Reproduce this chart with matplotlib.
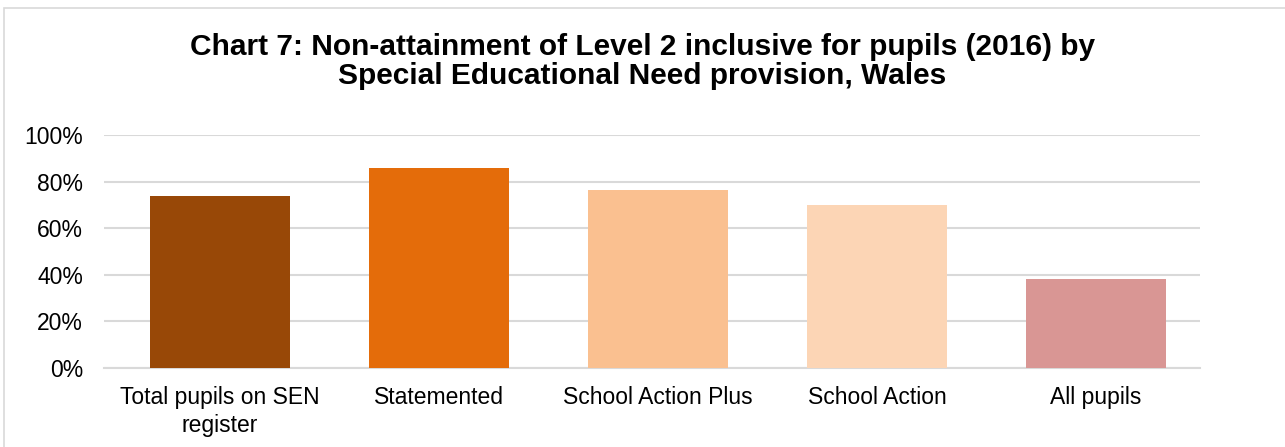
import matplotlib.pyplot as plt
from matplotlib.patches import Rectangle
from matplotlib.ticker import PercentFormatter

plt.rcParams['font.family'] = ['Liberation Sans', 'DejaVu Sans']

# non-attainment of Level 2 inclusive, % of pupils
categories = ["Total pupils on SEN\nregister", "Statemented", "School Action Plus",
              "School Action", "All pupils"]
values = [73.8, 85.8, 76.4, 69.9, 38.1]
colors = ["#984807", "#E46C0A", "#FAC090", "#FCD5B5", "#D99694"]

fig = plt.figure(figsize=(12.85, 4.47), dpi=100)
ax = fig.add_axes([104 / 1285, 0.177, 1096 / 1285, 0.52])

x = range(len(categories))
ax.bar(x, values, width=0.64, color=colors, zorder=3)

ax.set_ylim(0, 100)
ax.set_xlim(-0.53, 4.475)
ax.set_yticks(range(0, 101, 20))
ax.yaxis.set_major_formatter(PercentFormatter(decimals=0))
ax.grid(axis='y', color='#D9D9D9', linewidth=1.5, zorder=0)
ax.set_xticks(list(x))
ax.set_xticklabels(categories, fontsize=16.5, linespacing=1.3)
ax.tick_params(axis='y', labelsize=16.5, length=0, pad=15)
ax.tick_params(axis='x', length=0, pad=13)
for s in ['top', 'right', 'left']:
    ax.spines[s].set_visible(False)
ax.spines['bottom'].set_color('#D9D9D9')
ax.spines['bottom'].set_linewidth(1.5)

fig.text(0.5, 0.862, "Chart 7: Non-attainment of Level 2 inclusive for pupils (2016) by\n"
         "Special Educational Need provision, Wales",
         ha='center', va='center', fontsize=21.5, fontweight='bold', linespacing=1.05)

# chart frame
fig.patches.append(Rectangle((0.003, -0.05), 1.1, 1.032, transform=fig.transFigure,
                             fill=False, edgecolor='#D9D9D9', linewidth=1.2))

fig.savefig("out.png", dpi=100)
